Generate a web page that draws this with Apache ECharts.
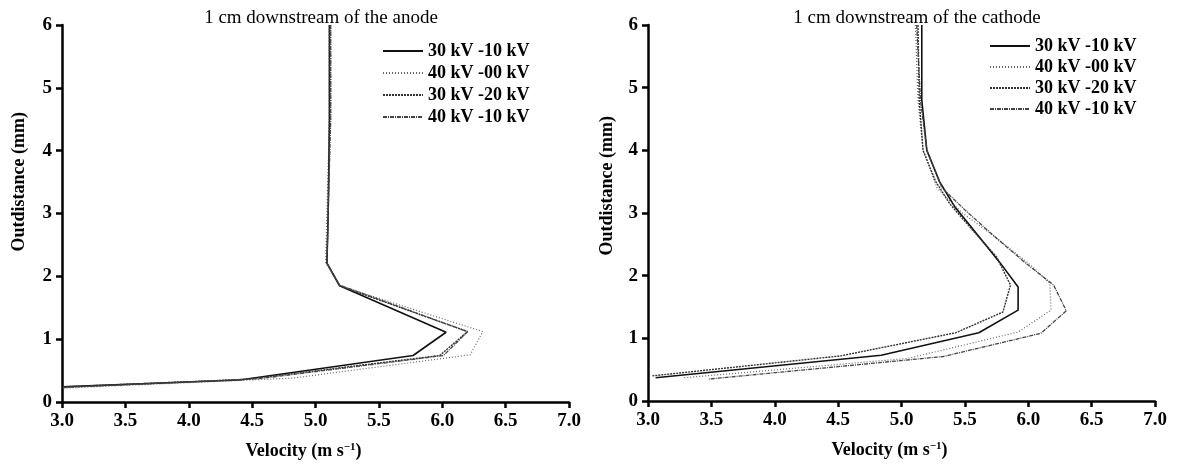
<!DOCTYPE html>
<html>
<head>
<meta charset="utf-8">
<script src="https://cdn.jsdelivr.net/npm/echarts@6/dist/echarts.min.js"></script>
<style>
  html, body { margin: 0; padding: 0; background: #fff; }
  #main { width: 1177px; height: 469px; }
</style>
</head>
<body>
<div id="main"></div>
<script>
var seriesNames = ['30 kV -10 kV', '40 kV -00 kV', '30 kV -20 kV', '40 kV -10 kV'];
var xTicks = [3.0, 3.5, 4.0, 4.5, 5.0, 5.5, 6.0, 6.5, 7.0];

// [velocity (m/s), outdistance (mm)] -- 1 cm downstream of the anode
var anode3010 = [[5.11, 6], [5.11, 4.5], [5.10, 3.0], [5.09, 2.21], [5.19, 1.85], [6.03, 1.11], [5.77, 0.74], [4.40, 0.35], [3.0, 0.24]];
var anode4000 = [[5.12, 6], [5.12, 4.6], [5.10, 3.8], [5.08, 2.22], [5.19, 1.85], [6.32, 1.12], [6.22, 0.75], [4.82, 0.38], [3.0, 0.22]];
var anode3020 = [[5.11, 6], [5.11, 4.5], [5.10, 3.0], [5.09, 2.21], [5.19, 1.85], [6.20, 1.12], [5.98, 0.74], [4.45, 0.36], [3.0, 0.24]];
var anode4010 = [[5.12, 6], [5.12, 4.5], [5.10, 3.0], [5.09, 2.21], [5.19, 1.86], [6.20, 1.12], [6.01, 0.74], [4.55, 0.37], [3.0, 0.23]];

// 1 cm downstream of the cathode
var cathode3010 = [[5.16, 6], [5.16, 4.8], [5.20, 4.0], [5.30, 3.5], [5.42, 3.1], [5.58, 2.7], [5.78, 2.2], [5.92, 1.82], [5.92, 1.45], [5.61, 1.09], [4.84, 0.73], [3.06, 0.37]];
var cathode4000 = [[5.11, 6], [5.13, 4.8], [5.17, 4.0], [5.28, 3.4], [5.48, 3.0], [5.75, 2.6], [6.00, 2.2], [6.17, 1.88], [6.18, 1.45], [5.92, 1.10], [5.05, 0.68], [3.28, 0.37]];
var cathode3020 = [[5.13, 6], [5.14, 4.8], [5.17, 4.0], [5.27, 3.5], [5.38, 3.15], [5.55, 2.75], [5.75, 2.3], [5.86, 1.85], [5.80, 1.42], [5.43, 1.09], [4.52, 0.72], [3.03, 0.40]];
var cathode4010 = [[5.12, 6], [5.15, 4.8], [5.20, 4.0], [5.32, 3.4], [5.50, 3.05], [5.72, 2.65], [5.98, 2.2], [6.20, 1.85], [6.30, 1.44], [6.10, 1.08], [5.33, 0.71], [3.48, 0.35]];

var chart = echarts.init(document.getElementById('main'));
var font = 'Liberation Serif';

var lineStyles = [
    { color: '#111', width: 1.6, type: 'solid' },
    { color: '#666', width: 1.2, type: [1, 2] },
    { color: '#333', width: 1.4, type: [2, 1] },
    { color: '#444', width: 1.3, type: [4, 1, 1, 1] }
];

function makeXAxis(idx) {
    return {
        gridIndex: idx, type: 'value', min: 3, max: 7, interval: 0.5,
        name: 'Velocity (m s{sup|\u22121})', nameLocation: 'middle', nameGap: 40,
        nameTextStyle: {
            fontFamily: font, fontWeight: 'bold', fontSize: 18, color: '#000', padding: [0, 24, 0, 0],
            rich: { sup: { fontFamily: font, fontWeight: 'bold', fontSize: 11, color: '#000', verticalAlign: 'top', padding: [0, 0, 8, 0] } }
        },
        axisLine: { lineStyle: { color: '#000', width: 2.5 } },
        axisTick: { show: true, inside: false, length: 6, lineStyle: { color: '#000', width: 2.5 } },
        axisLabel: {
            margin: 10, fontFamily: font, fontWeight: 'bold', fontSize: 19, color: '#000',
            formatter: function (v) { return v.toFixed(1); }
        },
        splitLine: { show: false }
    };
}

function makeYAxis(idx) {
    return {
        gridIndex: idx, type: 'value', min: 0, max: 6, interval: 1,
        axisLine: { show: true, lineStyle: { color: '#000', width: 2.5 } },
        axisTick: { show: true, inside: false, length: 6, lineStyle: { color: '#000', width: 2.5 } },
        axisLabel: { margin: 10, fontFamily: font, fontWeight: 'bold', fontSize: 19, color: '#000' },
        splitLine: { show: false }
    };
}

function makeSeries(data, k, idx) {
    return {
        name: seriesNames[k], type: 'line', xAxisIndex: idx, yAxisIndex: idx,
        data: data, symbol: 'none', showSymbol: false, smooth: false,
        color: lineStyles[k].color,
        itemStyle: { color: lineStyles[k].color },
        lineStyle: lineStyles[k], animation: false
    };
}

var legendBase = {
    orient: 'vertical', itemWidth: 40, itemHeight: 14,
    itemStyle: { opacity: 0 },
    textStyle: { fontFamily: font, fontWeight: 'bold', fontSize: 18, color: '#000', lineHeight: 18 },
    data: seriesNames
};

var option = {
    backgroundColor: '#fff',
    animation: false,
    title: [
        { text: '1 cm downstream of the anode', left: 316, top: 4, textAlign: 'center',
          textStyle: { fontFamily: font, fontWeight: 'normal', fontSize: 19, color: '#000' } },
        { text: '1 cm downstream of the cathode', left: 912, top: 4, textAlign: 'center',
          textStyle: { fontFamily: font, fontWeight: 'normal', fontSize: 19, color: '#000' } }
    ],
    legend: [
        Object.assign({}, legendBase, { left: 377, top: 37, itemGap: 4 }),
        Object.assign({}, legendBase, { left: 984, top: 32, itemGap: 3 })
    ],
    grid: [
        { left: 62, right: 608, top: 25, bottom: 67 },
        { left: 648, right: 22, top: 25, bottom: 68 }
    ],
    xAxis: [makeXAxis(0), makeXAxis(1)],
    yAxis: [makeYAxis(0), makeYAxis(1)],
    graphic: [
        { type: 'text', left: 10, top: 112, rotation: Math.PI / 2,
          style: { text: 'Outdistance (mm)', fontFamily: font, fontWeight: 'bold', fontSize: 18, fill: '#000' } },
        { type: 'text', left: 598, top: 116, rotation: Math.PI / 2,
          style: { text: 'Outdistance (mm)', fontFamily: font, fontWeight: 'bold', fontSize: 18, fill: '#000' } }
    ],
    series: [
        makeSeries(anode3010, 0, 0), makeSeries(anode4000, 1, 0),
        makeSeries(anode3020, 2, 0), makeSeries(anode4010, 3, 0),
        makeSeries(cathode3010, 0, 1), makeSeries(cathode4000, 1, 1),
        makeSeries(cathode3020, 2, 1), makeSeries(cathode4010, 3, 1)
    ]
};
chart.setOption(option);
</script>
</body>
</html>
